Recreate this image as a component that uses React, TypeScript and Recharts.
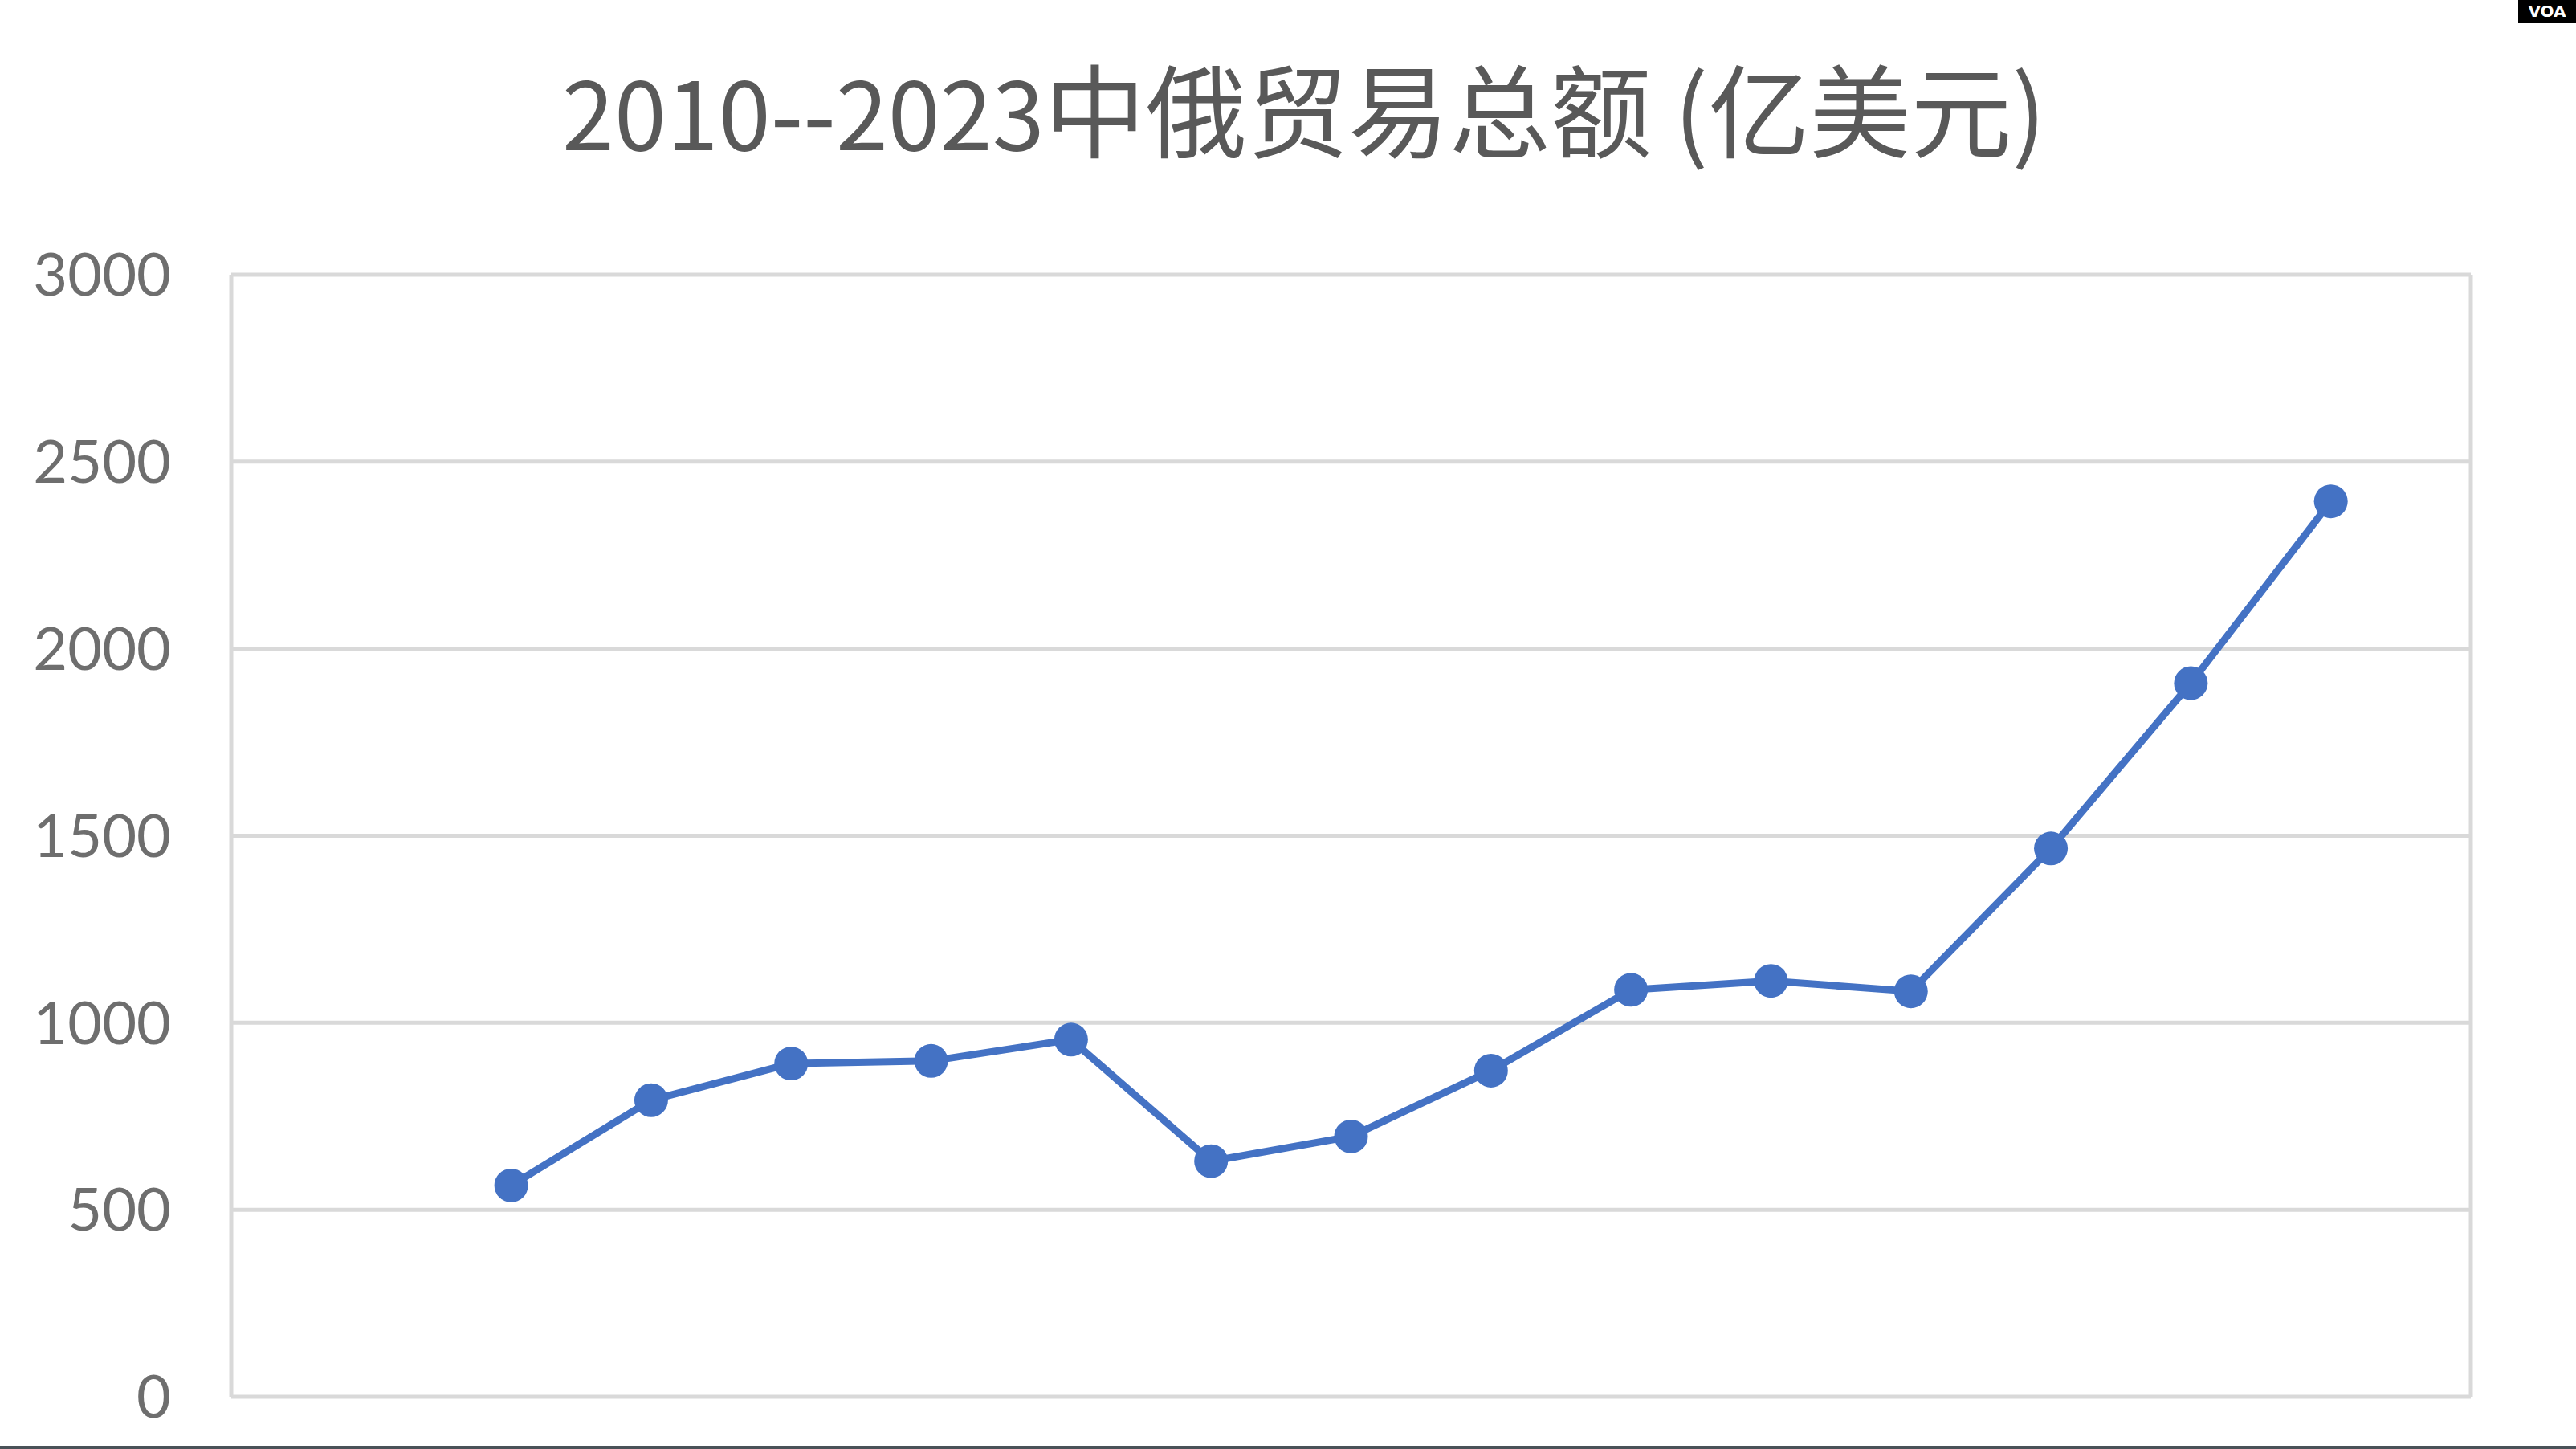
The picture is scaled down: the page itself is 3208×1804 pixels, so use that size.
import { CartesianGrid, Line, LineChart, XAxis, YAxis } from "recharts";

// 2010–2023 China–Russia trade, 100M USD
const years = [2010, 2011, 2012, 2013, 2014, 2015, 2016, 2017, 2018, 2019, 2020, 2021, 2022, 2023];
const totals = [565, 793, 891, 898, 955, 630, 696, 872, 1088, 1112, 1084, 1466, 1908, 2394];

const xTicks = [2008, 2010, 2012, 2014, 2016, 2018, 2020, 2022, 2024];
const yTicks = [0, 500, 1000, 1500, 2000, 2500, 3000];

const TITLE_YEARS = "2010--2023";
const TITLE_TEXT = "中俄贸易总额 (亿美元)";

const BLUE = "#4472C4";
const GRID = "#d9d9d9";
const TEXT = "#595959";

const data = years.map((year, i) => ({ year, total: totals[i] }));

export default function App() {
  return (
    <div
      style={{
        position: "absolute",
        left: 0,
        top: 0,
        width: 3208,
        height: 1804,
        background: "#fff",
        overflow: "hidden",
      }}
    >
      <div
        style={{
          position: "absolute",
          left: 0,
          width: 3208 + 40,
          top: 52,
          textAlign: "center",
          fontFamily: "'Noto Sans CJK SC', sans-serif",
          fontSize: 126,
          lineHeight: "160px",
          color: TEXT,
          whiteSpace: "nowrap",
        }}
      >
        <span style={{ fontSize: 117 }}>{TITLE_YEARS}</span>
        {TITLE_TEXT}
      </div>

      <LineChart
        width={3208}
        height={1804}
        data={data}
        margin={{ top: 342, right: 131, bottom: 65, left: 0 }}
      >
        <CartesianGrid stroke={GRID} strokeWidth={5} />
        <XAxis
          dataKey="year"
          type="number"
          domain={[2008, 2024]}
          ticks={xTicks}
          tick={false}
          tickLine={false}
          height={0}
          axisLine={{ stroke: "#bfbfbf", strokeWidth: 5 }}
        />
        <YAxis
          domain={[0, 3000]}
          ticks={yTicks}
          width={288}
          axisLine={false}
          tickLine={false}
          tickSize={0}
          tickMargin={75}
          tick={{ fill: "#6e6e6e", fontSize: 74, fontFamily: "Lato, sans-serif" }}
        />
        <Line
          dataKey="total"
          stroke={BLUE}
          strokeWidth={9}
          dot={{ r: 21, fill: BLUE, stroke: "none" }}
          activeDot={false}
          isAnimationActive={false}
        />
      </LineChart>

      <div
        style={{
          position: "absolute",
          right: 0,
          top: 0,
          width: 72,
          height: 29,
          background: "#000",
          color: "#fff",
          fontFamily: "'DejaVu Sans', sans-serif",
          fontWeight: 700,
          fontSize: 20,
          lineHeight: "29px",
          textAlign: "center",
        }}
      >
        VOA
      </div>
      <div
        style={{
          position: "absolute",
          left: 0,
          bottom: 0,
          width: 3208,
          height: 4,
          background: "#4a5258",
        }}
      />
    </div>
  );
}
